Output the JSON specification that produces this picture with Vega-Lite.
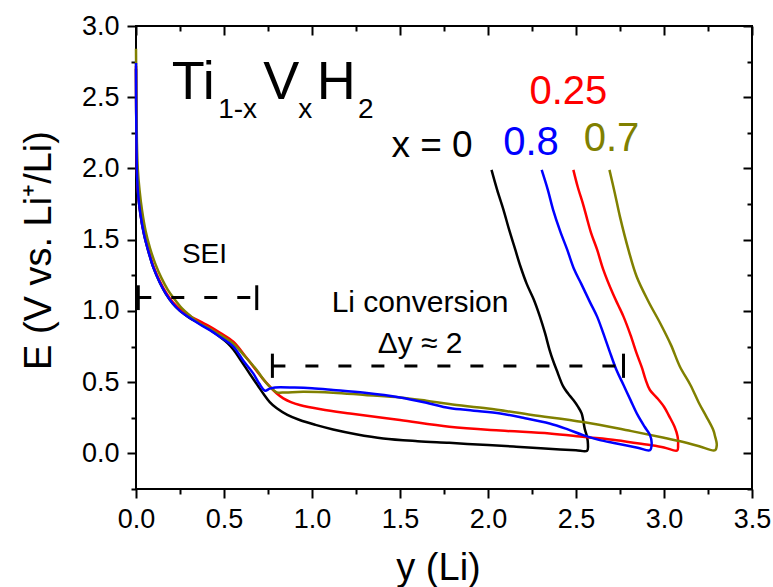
{
  "$schema": "https://vega.github.io/schema/vega-lite/v6.json",
  "width": 616,
  "height": 463,
  "autosize": {"type": "none"},
  "padding": {"left": 136, "top": 26, "right": 21, "bottom": 98},
  "background": "white",
  "config": {
    "font": "Liberation Sans",
    "view": {"stroke": "#000", "strokeWidth": 2},
    "axis": {"grid": false, "domain": false, "tickColor": "#000", "tickWidth": 2, "labelColor": "#000", "labelFont": "Liberation Sans", "labelFontSize": 27, "titleFont": "Liberation Sans", "titleColor": "#000", "titleFontWeight": "normal", "labelFlush": false, "labelOverlap": false},
    "text": {"font": "Liberation Sans"}
  },
  "datasets": {
    "curves": [
      {"s":"0","i":0,"x":0,"E":2.70},{"s":"0","i":1,"x":0.001,"E":2.40},{"s":"0","i":2,"x":0.003,"E":2.15},{"s":"0","i":3,"x":0.006,"E":1.95},{"s":"0","i":4,"x":0.012,"E":1.82},{"s":"0","i":5,"x":0.025,"E":1.68},{"s":"0","i":6,"x":0.045,"E":1.54},{"s":"0","i":7,"x":0.07,"E":1.42},{"s":"0","i":8,"x":0.10,"E":1.30},{"s":"0","i":9,"x":0.135,"E":1.20},{"s":"0","i":10,"x":0.17,"E":1.12},{"s":"0","i":11,"x":0.21,"E":1.05},{"s":"0","i":12,"x":0.25,"E":1.0},{"s":"0","i":13,"x":0.30,"E":0.955},{"s":"0","i":14,"x":0.36,"E":0.912},{"s":"0","i":15,"x":0.42,"E":0.868},{"s":"0","i":16,"x":0.48,"E":0.815},{"s":"0","i":17,"x":0.52,"E":0.775},{"s":"0","i":18,"x":0.553,"E":0.73},{"s":"0","i":19,"x":0.60,"E":0.645},{"s":"0","i":20,"x":0.648,"E":0.555},{"s":"0","i":21,"x":0.69,"E":0.48},{"s":"0","i":22,"x":0.723,"E":0.42},{"s":"0","i":23,"x":0.76,"E":0.36},{"s":"0","i":24,"x":0.80,"E":0.316},{"s":"0","i":25,"x":0.86,"E":0.27},{"s":"0","i":26,"x":0.93,"E":0.234},{"s":"0","i":27,"x":1.02,"E":0.20},{"s":"0","i":28,"x":1.12,"E":0.168},{"s":"0","i":29,"x":1.25,"E":0.135},{"s":"0","i":30,"x":1.405,"E":0.105},{"s":"0","i":31,"x":1.60,"E":0.086},{"s":"0","i":32,"x":1.78,"E":0.074},{"s":"0","i":33,"x":2.00,"E":0.058},{"s":"0","i":34,"x":2.16,"E":0.047},{"s":"0","i":35,"x":2.30,"E":0.036},{"s":"0","i":36,"x":2.41,"E":0.028},{"s":"0","i":37,"x":2.50,"E":0.022},{"s":"0","i":38,"x":2.563,"E":0.018},{"s":"0","i":39,"x":2.568,"E":0.06},{"s":"0","i":40,"x":2.562,"E":0.12},{"s":"0","i":41,"x":2.55,"E":0.17},{"s":"0","i":42,"x":2.532,"E":0.281},{"s":"0","i":43,"x":2.51,"E":0.33},{"s":"0","i":44,"x":2.485,"E":0.374},{"s":"0","i":45,"x":2.455,"E":0.42},{"s":"0","i":46,"x":2.428,"E":0.468},{"s":"0","i":47,"x":2.39,"E":0.585},{"s":"0","i":48,"x":2.37,"E":0.65},{"s":"0","i":49,"x":2.35,"E":0.725},{"s":"0","i":50,"x":2.325,"E":0.84},{"s":"0","i":51,"x":2.295,"E":0.96},{"s":"0","i":52,"x":2.26,"E":1.08},{"s":"0","i":53,"x":2.22,"E":1.19},{"s":"0","i":54,"x":2.185,"E":1.31},{"s":"0","i":55,"x":2.155,"E":1.43},{"s":"0","i":56,"x":2.12,"E":1.57},{"s":"0","i":57,"x":2.088,"E":1.71},{"s":"0","i":58,"x":2.052,"E":1.85},{"s":"0","i":59,"x":2.02,"E":1.99},

      {"s":"0.25","i":0,"x":0,"E":2.72},{"s":"0.25","i":1,"x":0.001,"E":2.42},{"s":"0.25","i":2,"x":0.003,"E":2.16},{"s":"0.25","i":3,"x":0.006,"E":1.96},{"s":"0.25","i":4,"x":0.012,"E":1.83},{"s":"0.25","i":5,"x":0.025,"E":1.69},{"s":"0.25","i":6,"x":0.045,"E":1.55},{"s":"0.25","i":7,"x":0.07,"E":1.43},{"s":"0.25","i":8,"x":0.10,"E":1.31},{"s":"0.25","i":9,"x":0.135,"E":1.21},{"s":"0.25","i":10,"x":0.17,"E":1.13},{"s":"0.25","i":11,"x":0.21,"E":1.06},{"s":"0.25","i":12,"x":0.25,"E":1.012},{"s":"0.25","i":13,"x":0.30,"E":0.968},{"s":"0.25","i":14,"x":0.364,"E":0.926},{"s":"0.25","i":15,"x":0.42,"E":0.89},{"s":"0.25","i":16,"x":0.48,"E":0.845},{"s":"0.25","i":17,"x":0.553,"E":0.784},{"s":"0.25","i":18,"x":0.61,"E":0.70},{"s":"0.25","i":19,"x":0.667,"E":0.608},{"s":"0.25","i":20,"x":0.72,"E":0.525},{"s":"0.25","i":21,"x":0.761,"E":0.468},{"s":"0.25","i":22,"x":0.80,"E":0.42},{"s":"0.25","i":23,"x":0.837,"E":0.386},{"s":"0.25","i":24,"x":0.88,"E":0.36},{"s":"0.25","i":25,"x":0.93,"E":0.34},{"s":"0.25","i":26,"x":1.05,"E":0.31},{"s":"0.25","i":27,"x":1.216,"E":0.28},{"s":"0.25","i":28,"x":1.5,"E":0.234},{"s":"0.25","i":29,"x":1.78,"E":0.187},{"s":"0.25","i":30,"x":2.07,"E":0.16},{"s":"0.25","i":31,"x":2.35,"E":0.14},{"s":"0.25","i":32,"x":2.55,"E":0.115},{"s":"0.25","i":33,"x":2.73,"E":0.093},{"s":"0.25","i":34,"x":2.9,"E":0.062},{"s":"0.25","i":35,"x":3.0,"E":0.042},{"s":"0.25","i":36,"x":3.075,"E":0.02},{"s":"0.25","i":37,"x":3.08,"E":0.06},{"s":"0.25","i":38,"x":3.077,"E":0.12},{"s":"0.25","i":39,"x":3.06,"E":0.187},{"s":"0.25","i":40,"x":3.03,"E":0.26},{"s":"0.25","i":41,"x":3.0,"E":0.327},{"s":"0.25","i":42,"x":2.96,"E":0.39},{"s":"0.25","i":43,"x":2.92,"E":0.445},{"s":"0.25","i":44,"x":2.895,"E":0.52},{"s":"0.25","i":45,"x":2.875,"E":0.60},{"s":"0.25","i":46,"x":2.845,"E":0.70},{"s":"0.25","i":47,"x":2.81,"E":0.83},{"s":"0.25","i":48,"x":2.77,"E":0.96},{"s":"0.25","i":49,"x":2.74,"E":1.04},{"s":"0.25","i":50,"x":2.71,"E":1.12},{"s":"0.25","i":51,"x":2.655,"E":1.29},{"s":"0.25","i":52,"x":2.62,"E":1.43},{"s":"0.25","i":53,"x":2.585,"E":1.55},{"s":"0.25","i":54,"x":2.56,"E":1.66},{"s":"0.25","i":55,"x":2.54,"E":1.75},{"s":"0.25","i":56,"x":2.51,"E":1.87},{"s":"0.25","i":57,"x":2.485,"E":1.99},

      {"s":"0.7","i":0,"x":0,"E":2.84},{"s":"0.7","i":1,"x":0.002,"E":2.5},{"s":"0.7","i":2,"x":0.005,"E":2.2},{"s":"0.7","i":3,"x":0.01,"E":2.0},{"s":"0.7","i":4,"x":0.02,"E":1.85},{"s":"0.7","i":5,"x":0.035,"E":1.70},{"s":"0.7","i":6,"x":0.055,"E":1.56},{"s":"0.7","i":7,"x":0.08,"E":1.44},{"s":"0.7","i":8,"x":0.11,"E":1.33},{"s":"0.7","i":9,"x":0.145,"E":1.23},{"s":"0.7","i":10,"x":0.18,"E":1.15},{"s":"0.7","i":11,"x":0.22,"E":1.08},{"s":"0.7","i":12,"x":0.26,"E":1.02},{"s":"0.7","i":13,"x":0.30,"E":0.975},{"s":"0.7","i":14,"x":0.364,"E":0.91},{"s":"0.7","i":15,"x":0.42,"E":0.875},{"s":"0.7","i":16,"x":0.48,"E":0.83},{"s":"0.7","i":17,"x":0.553,"E":0.77},{"s":"0.7","i":18,"x":0.62,"E":0.68},{"s":"0.7","i":19,"x":0.686,"E":0.585},{"s":"0.7","i":20,"x":0.73,"E":0.51},{"s":"0.7","i":21,"x":0.77,"E":0.456},{"s":"0.7","i":22,"x":0.80,"E":0.428},{"s":"0.7","i":23,"x":0.85,"E":0.428},{"s":"0.7","i":24,"x":0.95,"E":0.432},{"s":"0.7","i":25,"x":1.12,"E":0.426},{"s":"0.7","i":26,"x":1.3,"E":0.41},{"s":"0.7","i":27,"x":1.5,"E":0.393},{"s":"0.7","i":28,"x":1.65,"E":0.37},{"s":"0.7","i":29,"x":1.78,"E":0.346},{"s":"0.7","i":30,"x":2.0,"E":0.315},{"s":"0.7","i":31,"x":2.25,"E":0.27},{"s":"0.7","i":32,"x":2.54,"E":0.22},{"s":"0.7","i":33,"x":2.8,"E":0.16},{"s":"0.7","i":34,"x":3.0,"E":0.11},{"s":"0.7","i":35,"x":3.11,"E":0.08},{"s":"0.7","i":36,"x":3.2,"E":0.05},{"s":"0.7","i":37,"x":3.29,"E":0.022},{"s":"0.7","i":38,"x":3.30,"E":0.06},{"s":"0.7","i":39,"x":3.29,"E":0.12},{"s":"0.7","i":40,"x":3.28,"E":0.164},{"s":"0.7","i":41,"x":3.24,"E":0.26},{"s":"0.7","i":42,"x":3.20,"E":0.35},{"s":"0.7","i":43,"x":3.15,"E":0.48},{"s":"0.7","i":44,"x":3.09,"E":0.61},{"s":"0.7","i":45,"x":3.04,"E":0.76},{"s":"0.7","i":46,"x":2.98,"E":0.91},{"s":"0.7","i":47,"x":2.91,"E":1.07},{"s":"0.7","i":48,"x":2.845,"E":1.24},{"s":"0.7","i":49,"x":2.80,"E":1.42},{"s":"0.7","i":50,"x":2.75,"E":1.66},{"s":"0.7","i":51,"x":2.72,"E":1.83},{"s":"0.7","i":52,"x":2.69,"E":1.99},

      {"s":"0.8","i":0,"x":0,"E":2.74},{"s":"0.8","i":1,"x":0.001,"E":2.42},{"s":"0.8","i":2,"x":0.003,"E":2.15},{"s":"0.8","i":3,"x":0.006,"E":1.95},{"s":"0.8","i":4,"x":0.012,"E":1.82},{"s":"0.8","i":5,"x":0.025,"E":1.68},{"s":"0.8","i":6,"x":0.045,"E":1.54},{"s":"0.8","i":7,"x":0.07,"E":1.42},{"s":"0.8","i":8,"x":0.10,"E":1.30},{"s":"0.8","i":9,"x":0.135,"E":1.20},{"s":"0.8","i":10,"x":0.17,"E":1.12},{"s":"0.8","i":11,"x":0.21,"E":1.05},{"s":"0.8","i":12,"x":0.25,"E":1.0},{"s":"0.8","i":13,"x":0.30,"E":0.955},{"s":"0.8","i":14,"x":0.364,"E":0.905},{"s":"0.8","i":15,"x":0.42,"E":0.865},{"s":"0.8","i":16,"x":0.48,"E":0.815},{"s":"0.8","i":17,"x":0.553,"E":0.75},{"s":"0.8","i":18,"x":0.61,"E":0.65},{"s":"0.8","i":19,"x":0.667,"E":0.56},{"s":"0.8","i":20,"x":0.70,"E":0.49},{"s":"0.8","i":21,"x":0.733,"E":0.44},{"s":"0.8","i":22,"x":0.76,"E":0.455},{"s":"0.8","i":23,"x":0.79,"E":0.463},{"s":"0.8","i":24,"x":0.9,"E":0.462},{"s":"0.8","i":25,"x":1.0,"E":0.457},{"s":"0.8","i":26,"x":1.12,"E":0.445},{"s":"0.8","i":27,"x":1.3,"E":0.425},{"s":"0.8","i":28,"x":1.5,"E":0.392},{"s":"0.8","i":29,"x":1.65,"E":0.355},{"s":"0.8","i":30,"x":1.78,"E":0.318},{"s":"0.8","i":31,"x":1.92,"E":0.30},{"s":"0.8","i":32,"x":2.07,"E":0.28},{"s":"0.8","i":33,"x":2.2,"E":0.25},{"s":"0.8","i":34,"x":2.35,"E":0.21},{"s":"0.8","i":35,"x":2.45,"E":0.17},{"s":"0.8","i":36,"x":2.54,"E":0.128},{"s":"0.8","i":37,"x":2.63,"E":0.095},{"s":"0.8","i":38,"x":2.73,"E":0.07},{"s":"0.8","i":39,"x":2.85,"E":0.04},{"s":"0.8","i":40,"x":2.92,"E":0.022},{"s":"0.8","i":41,"x":2.93,"E":0.07},{"s":"0.8","i":42,"x":2.92,"E":0.13},{"s":"0.8","i":43,"x":2.89,"E":0.187},{"s":"0.8","i":44,"x":2.85,"E":0.27},{"s":"0.8","i":45,"x":2.81,"E":0.374},{"s":"0.8","i":46,"x":2.77,"E":0.48},{"s":"0.8","i":47,"x":2.73,"E":0.585},{"s":"0.8","i":48,"x":2.69,"E":0.72},{"s":"0.8","i":49,"x":2.655,"E":0.843},{"s":"0.8","i":50,"x":2.62,"E":0.96},{"s":"0.8","i":51,"x":2.58,"E":1.06},{"s":"0.8","i":52,"x":2.53,"E":1.19},{"s":"0.8","i":53,"x":2.49,"E":1.29},{"s":"0.8","i":54,"x":2.45,"E":1.43},{"s":"0.8","i":55,"x":2.41,"E":1.56},{"s":"0.8","i":56,"x":2.37,"E":1.71},{"s":"0.8","i":57,"x":2.34,"E":1.85},{"s":"0.8","i":58,"x":2.305,"E":1.99}
    ],
    "hline": [
      {"x": 0.013, "x2": 0.686, "E": 1.095},
      {"x": 0.775, "x2": 2.77, "E": 0.613}
    ],
    "vbars": [
      {"x": 0.013, "E": 1.006, "E2": 1.18},
      {"x": 0.686, "E": 1.006, "E2": 1.18},
      {"x": 0.775, "E": 0.53, "E2": 0.70},
      {"x": 2.77, "E": 0.53, "E2": 0.70}
    ]
  },
  "layer": [
    {
      "data": {"values": [{"x": 0, "E": 0}]},
      "mark": {"type": "point", "opacity": 0},
      "encoding": {
        "x": {"field": "x", "type": "quantitative", "scale": {"domain": [0, 3.5], "nice": false, "zero": false},
          "axis": {"orient": "bottom", "values": [0.25, 0.75, 1.25, 1.75, 2.25, 2.75, 3.25], "tickSize": 5, "labels": false, "title": null}},
        "y": {"field": "E", "type": "quantitative", "scale": {"domain": [-0.25, 3.0], "nice": false, "zero": false},
          "axis": {"orient": "left", "values": [-0.25, 0.25, 0.75, 1.25, 1.75, 2.25, 2.75], "tickSize": 5, "labels": false, "title": null}}
      }
    },
    {
      "data": {"values": [{"x": 0, "E": 0}]},
      "mark": {"type": "point", "opacity": 0},
      "encoding": {
        "x": {"field": "x", "type": "quantitative", "scale": {"domain": [0, 3.5], "nice": false, "zero": false},
          "axis": {"orient": "top", "values": [0, 0.5, 1, 1.5, 2, 2.5, 3, 3.5], "tickSize": -9, "labels": false, "title": null}},
        "y": {"field": "E", "type": "quantitative", "scale": {"domain": [-0.25, 3.0], "nice": false, "zero": false},
          "axis": {"orient": "right", "values": [0, 0.5, 1, 1.5, 2, 2.5, 3], "tickSize": -9, "labels": false, "title": null}}
      }
    },
    {
      "data": {"values": [{"x": 0, "E": 0}]},
      "mark": {"type": "point", "opacity": 0},
      "encoding": {
        "x": {"field": "x", "type": "quantitative", "scale": {"domain": [0, 3.5], "nice": false, "zero": false},
          "axis": {"orient": "top", "values": [0.25, 0.75, 1.25, 1.75, 2.25, 2.75, 3.25], "tickSize": -5, "labels": false, "title": null}},
        "y": {"field": "E", "type": "quantitative", "scale": {"domain": [-0.25, 3.0], "nice": false, "zero": false},
          "axis": {"orient": "right", "values": [-0.25, 0.25, 0.75, 1.25, 1.75, 2.25, 2.75], "tickSize": -5, "labels": false, "title": null}}
      }
    },
    {
      "data": {"name": "curves"},
      "mark": {"type": "line", "strokeWidth": 2.5, "interpolate": "catmull-rom"},
      "encoding": {
        "x": {"field": "x", "type": "quantitative", "scale": {"domain": [0, 3.5], "nice": false, "zero": false},
          "axis": {"orient": "bottom", "values": [0, 0.5, 1, 1.5, 2, 2.5, 3, 3.5], "format": ".1f", "tickSize": 9, "labelPadding": 8,
            "title": "y (Li)", "titleFontSize": 38, "titleX": 302, "titleY": 90, "titleBaseline": "alphabetic", "titleAlign": "center", "titleAnchor": null}},
        "y": {"field": "E", "type": "quantitative", "scale": {"domain": [-0.25, 3.0], "nice": false, "zero": false},
          "axis": {"orient": "left", "values": [0, 0.5, 1, 1.5, 2, 2.5, 3], "format": ".1f", "tickSize": 9, "labelPadding": 8,
            "title": "E (V vs. Li⁺/Li)", "titleFontSize": 38, "titleAngle": 270, "titleX": -86, "titleY": 224, "titleBaseline": "alphabetic", "titleAlign": "center"}},
        "color": {"field": "s", "type": "nominal", "scale": {"domain": ["0", "0.25", "0.8", "0.7"], "range": ["#000000", "#ff0000", "#0000ff", "#808000"]}, "legend": null},
        "detail": {"field": "s"},
        "order": {"field": "i", "type": "quantitative"}
      }
    },
    {
      "data": {"name": "hline"},
      "mark": {"type": "rule", "strokeWidth": 3, "strokeDash": [13, 20], "color": "#000"},
      "encoding": {
        "x": {"field": "x", "type": "quantitative", "axis": null},
        "x2": {"field": "x2"},
        "y": {"field": "E", "type": "quantitative", "axis": null}
      }
    },
    {
      "data": {"name": "vbars"},
      "mark": {"type": "rule", "strokeWidth": 3, "color": "#000"},
      "encoding": {
        "x": {"field": "x", "type": "quantitative", "axis": null},
        "y": {"field": "E", "type": "quantitative", "axis": null},
        "y2": {"field": "E2"}
      }
    },
    {
      "data": {"values": [{"t": "Ti", "x": 0.203, "E": 2.488}, {"t": "V", "x": 0.723, "E": 2.488}, {"t": "H", "x": 1.027, "E": 2.488}]},
      "mark": {"type": "text", "fontSize": 54, "align": "left", "baseline": "alphabetic", "color": "#000"},
      "encoding": {
        "x": {"field": "x", "type": "quantitative", "axis": null},
        "y": {"field": "E", "type": "quantitative", "axis": null},
        "text": {"field": "t"}
      }
    },
    {
      "data": {"values": [{"t": "1-x", "x": 0.467, "E": 2.352}, {"t": "x", "x": 0.922, "E": 2.352}, {"t": "2", "x": 1.262, "E": 2.352}]},
      "mark": {"type": "text", "fontSize": 28, "align": "left", "baseline": "alphabetic", "color": "#000"},
      "encoding": {
        "x": {"field": "x", "type": "quantitative", "axis": null},
        "y": {"field": "E", "type": "quantitative", "axis": null},
        "text": {"field": "t"}
      }
    },
    {
      "data": {"values": [{"t": "SEI", "x": 0.261, "E": 1.336}]},
      "mark": {"type": "text", "fontSize": 28, "align": "left", "baseline": "alphabetic", "color": "#000"},
      "encoding": {
        "x": {"field": "x", "type": "quantitative", "axis": null},
        "y": {"field": "E", "type": "quantitative", "axis": null},
        "text": {"field": "t"}
      }
    },
    {
      "data": {"values": [{"t": "Li conversion", "x": 1.614, "E": 0.994}, {"t": "Δy ≈ 2", "x": 1.614, "E": 0.702}]},
      "mark": {"type": "text", "fontSize": 30, "align": "center", "baseline": "alphabetic", "color": "#000"},
      "encoding": {
        "x": {"field": "x", "type": "quantitative", "axis": null},
        "y": {"field": "E", "type": "quantitative", "axis": null},
        "text": {"field": "t"}
      }
    },
    {
      "data": {"values": [{"t": "x = 0", "x": 1.682, "E": 2.081}]},
      "mark": {"type": "text", "fontSize": 37, "align": "center", "baseline": "alphabetic", "color": "#000"},
      "encoding": {
        "x": {"field": "x", "type": "quantitative", "axis": null},
        "y": {"field": "E", "type": "quantitative", "axis": null},
        "text": {"field": "t"}
      }
    },
    {
      "data": {"values": [{"s": "0.25", "x": 2.457, "E": 2.453}, {"s": "0.8", "x": 2.244, "E": 2.095}, {"s": "0.7", "x": 2.702, "E": 2.123}]},
      "mark": {"type": "text", "fontSize": 40, "align": "center", "baseline": "alphabetic"},
      "encoding": {
        "x": {"field": "x", "type": "quantitative", "axis": null},
        "y": {"field": "E", "type": "quantitative", "axis": null},
        "text": {"field": "s"},
        "color": {"field": "s", "type": "nominal", "legend": null}
      }
    }
  ],
  "resolve": {"axis": {"x": "independent", "y": "independent"}}
}
